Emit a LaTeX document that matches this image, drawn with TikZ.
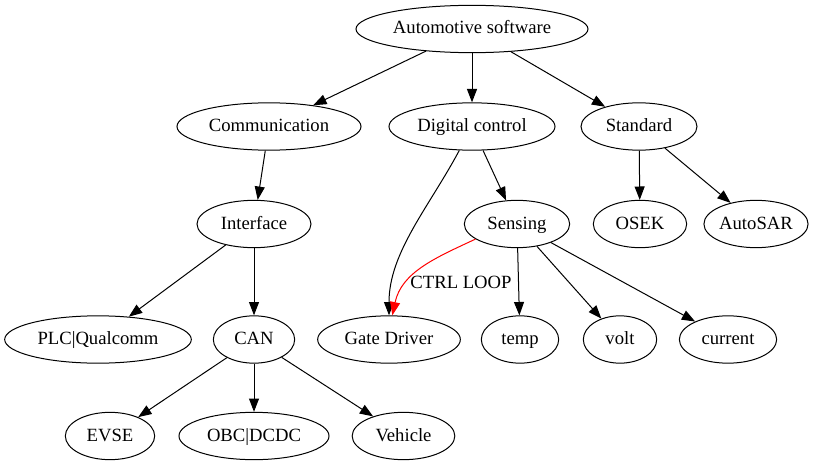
\documentclass[tikz,border=0pt]{standalone}
\usepackage{fontspec}
\setmainfont{Liberation Serif}
\usetikzlibrary{arrows.meta, shapes.geometric}

\begin{document}
\begin{tikzpicture}[
  x=0.75pt, y=-0.75pt,
  >={Triangle[length=10pt, width=7.5pt]},
  font=\fontsize{14pt}{16pt}\selectfont,
  line width=0.75pt,
  box/.style={ellipse, draw, inner sep=0pt, minimum height=35.5pt,
    text height=10pt, text depth=2.5pt},
  ]
  \useasboundingbox (0,0) rectangle (839,467);

  % top level
  \node[box, minimum width=174pt] (auto) at (472, 29) {Automotive software};

  % second row
  \node[box, minimum width=138pt] (comm) at (269, 126.5) {Communication};
  \node[box, minimum width=124.5pt] (digi) at (472, 126.5) {Digital control};
  \node[box, minimum width=87pt] (std) at (639, 126.5) {Standard};

  % third row
  \node[box, minimum width=85.5pt] (iface) at (254, 224) {Interface};
  \node[box, minimum width=79pt] (sens) at (517, 224) {Sensing};
  \node[box, minimum width=70pt] (osek) at (640, 224) {OSEK};
  \node[box, minimum width=71pt] (autosar) at (756, 224) {AutoSAR};

  % fourth row
  \node[box, minimum width=140pt] (plc) at (98, 339.5) {PLC|Qualcomm};
  \node[box, minimum width=61pt] (can) at (254, 339.5) {CAN};
  \node[box, minimum width=107pt] (gate) at (389, 339.5) {Gate Driver};
  \node[box, minimum width=58pt] (temp) at (520, 339.5) {temp};
  \node[box, minimum width=55pt] (volt) at (620, 339.5) {volt};
  \node[box, minimum width=73pt] (current) at (728, 339.5) {current};

  % bottom row
  \node[box, minimum width=67pt] (evse) at (110, 436) {EVSE};
  \node[box, minimum width=112.5pt] (obc) at (254, 436) {OBC|DCDC};
  \node[box, minimum width=77pt] (vehicle) at (403.5, 436) {Vehicle};

  % edges
  \draw[->] (auto) -- (comm);
  \draw[->] (auto) -- (digi);
  \draw[->] (auto) -- (std);
  \draw[->] (comm) -- (iface);
  \draw[->] (digi) -- (sens);
  \draw[->] (digi.-118) to[out=-118, in=90, looseness=0.9] (gate.north);
  \draw[->] (std) -- (osek);
  \draw[->] (std) -- (autosar);
  \draw[->] (iface) -- (plc);
  \draw[->] (iface) -- (can);
  \draw[->] (sens) -- (temp);
  \draw[->] (sens) -- (volt);
  \draw[->] (sens) -- (current);
  \draw[->] (can) -- (evse);
  \draw[->] (can) -- (obc);
  \draw[->] (can) -- (vehicle);

  % control loop
  \draw[->, red] (sens.-160) to[out=-155, in=78] ([xshift=2.5pt]gate.north);
  \node (loop) at (461, 282) {CTRL LOOP};
\end{tikzpicture}
\end{document}
